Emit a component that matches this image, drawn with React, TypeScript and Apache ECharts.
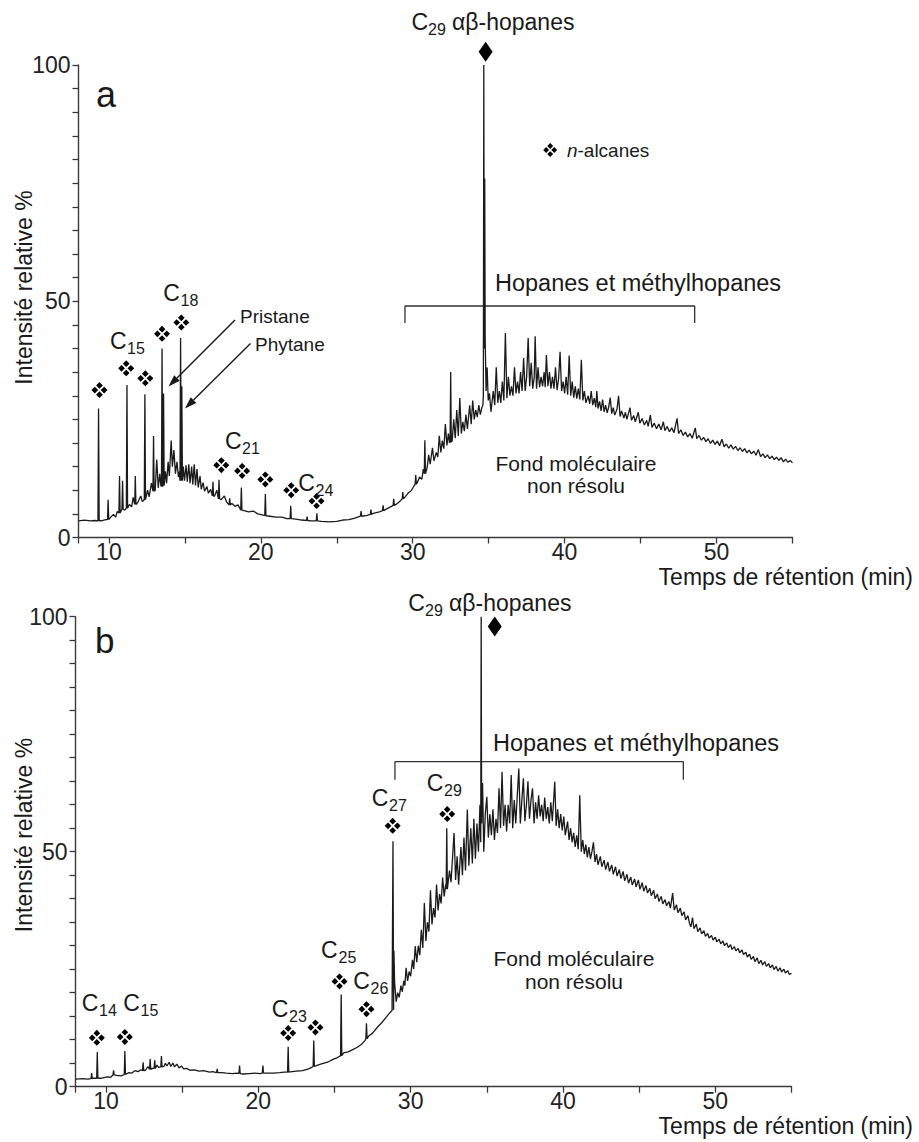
import React, { useEffect, useRef } from "react";
import * as echarts from "echarts";

const FONT = "'Liberation Sans', Arial, Helvetica, sans-serif";
const INK = "#1a1a1a";
const AXIS = "#3a3a3a";

// ---------- Panel a : chromatogram (time min, relative intensity %) ----------
const traceA: number[][] = [
  [8.0, 3.5], [8.4, 3.7], [8.8, 3.5], [9.1, 3.6], [9.6, 3.6], [9.8, 3.8], [10.1, 4.2], [10.3, 4.9], [10.45, 4.3],
  [10.55, 5.5], [11.05, 5.8], [11.35, 7.0], [11.5, 6.5], [11.6, 8.5], [11.9, 7.4], [12.1, 8.8], [12.2, 7.6],
  [12.55, 10], [12.65, 8.6], [12.8, 11.5], [13.05, 10], [13.15, 16.5], [13.25, 10.5], [13.35, 13.5], [13.42, 11],
  [13.72, 14], [13.8, 11.5], [13.9, 16], [13.98, 13], [14.1, 20.5], [14.18, 15], [14.28, 18.5], [14.38, 13.5],
  [14.48, 16], [14.58, 12.8], [14.65, 14], [14.9, 15], [14.98, 12], [15.08, 15.3], [15.16, 11.8], [15.26, 15.5],
  [15.34, 11.5], [15.45, 15], [15.52, 11.2], [15.62, 15.5], [15.7, 11], [15.8, 14.5], [15.88, 10.6], [16.0, 13],
  [16.08, 10.2], [16.2, 11.6], [16.3, 9.8], [16.45, 10.8], [16.55, 9.4], [16.7, 10.2], [16.95, 8.7], [17.1, 10],
  [17.4, 8.0], [17.6, 8.8], [17.75, 7.5], [18.1, 7.2], [18.3, 6.6], [18.5, 6.9], [18.9, 5.7], [19.2, 5.4],
  [19.5, 5.6], [19.8, 5.0], [20.1, 4.8], [20.6, 4.5], [21.0, 4.3], [21.4, 4.3], [21.7, 4.0], [22.3, 3.9],
  [22.7, 3.7], [23.3, 3.5], [24.0, 3.4], [24.5, 3.3], [25.0, 3.4], [25.4, 3.7], [25.8, 3.8], [26.2, 4.1],
  [27.0, 4.7], [27.4, 5.1], [27.8, 5.4], [28.2, 5.9], [28.6, 6.6], [28.9, 7.0], [29.2, 7.8], [29.5, 8.6],
  [29.7, 9.4], [29.9, 9.9], [30.1, 11.0], [30.3, 11.6], [30.45, 12.8], [30.6, 12.3], [30.7, 14.5], [30.95, 14.8],
  [31.05, 17.5], [31.15, 15.5], [31.3, 19], [31.4, 16.2], [31.55, 18], [31.65, 17], [31.75, 21.5], [31.85, 18],
  [31.95, 20.5], [32.05, 18.8], [32.15, 24], [32.25, 19.5], [32.35, 22], [32.42, 20], [32.6, 20.5], [32.7, 25],
  [32.8, 21], [32.9, 27], [33.0, 21.5], [33.1, 29.5], [33.2, 22], [33.3, 24.5], [33.4, 22.5], [33.5, 26],
  [33.6, 23], [33.75, 28], [33.85, 24], [33.95, 29], [34.05, 25], [34.15, 27], [34.25, 25.5], [34.35, 28],
  [34.45, 26], [34.55, 27.5], [34.62, 28], [34.65, 30], [34.68, 100], [34.71, 40], [34.74, 76], [34.77, 42],
  [34.83, 31], [34.9, 36], [34.97, 29], [35.05, 30.5], [35.15, 26.6], [35.3, 31], [35.4, 28], [35.5, 36],
  [35.6, 28.5], [35.7, 31], [35.8, 28.5], [35.9, 33], [36.0, 29], [36.1, 43.3], [36.2, 29.5], [36.3, 34],
  [36.4, 30], [36.5, 32], [36.6, 30], [36.7, 36], [36.8, 30.5], [36.9, 33], [37.0, 30.5], [37.1, 35],
  [37.2, 31], [37.3, 38], [37.4, 31], [37.5, 34], [37.6, 42.2], [37.7, 32], [37.8, 37], [37.9, 31.5],
  [38.0, 34], [38.06, 42.6], [38.15, 31.5], [38.25, 36], [38.35, 31.8], [38.45, 34], [38.55, 32], [38.65, 35],
  [38.72, 31.8], [38.8, 38.6], [38.9, 32], [39.0, 35], [39.1, 31.5], [39.2, 34], [39.3, 31.5], [39.4, 36],
  [39.5, 31.2], [39.6, 33.5], [39.7, 39.3], [39.8, 31], [39.9, 33], [40.0, 30.5], [40.1, 34], [40.2, 30.2],
  [40.3, 38.5], [40.4, 30], [40.5, 33], [40.6, 29.6], [40.7, 32], [40.8, 29.4], [40.9, 31.5], [41.0, 29.2],
  [41.1, 37.6], [41.2, 29], [41.3, 31], [41.4, 28.5], [41.55, 30], [41.65, 28.3], [41.75, 31], [41.85, 28],
  [41.95, 29.5], [42.05, 27.6], [42.12, 31], [42.2, 27.3], [42.3, 28.8], [42.4, 26.8], [42.5, 29.2], [42.6, 26.6],
  [42.7, 28], [42.8, 26.4], [42.9, 27.6], [43.0, 29.6], [43.1, 26.2], [43.2, 27.5], [43.3, 25.9], [43.45, 27.2],
  [43.55, 30], [43.65, 25.6], [43.75, 26.8], [43.9, 25.3], [44.0, 26.5], [44.1, 25], [44.3, 27.5], [44.4, 24.8],
  [44.55, 25.8], [44.65, 24.5], [44.85, 26.5], [44.95, 24.2], [45.1, 25.2], [45.25, 23.8], [45.4, 24.8], [45.5, 23.5],
  [45.64, 25.9], [45.75, 23.3], [45.9, 24.2], [46.05, 23], [46.2, 24], [46.35, 22.8], [46.5, 24.5], [46.6, 22.6],
  [46.75, 23.5], [46.9, 22.4], [47.05, 23.2], [47.2, 22.2], [47.4, 25.2], [47.5, 22], [47.65, 22.8], [47.8, 21.6],
  [47.95, 22.3], [48.1, 21.3], [48.25, 22], [48.4, 21], [48.6, 23.2], [48.7, 20.9], [48.85, 21.6], [49.0, 20.6],
  [49.15, 21.2], [49.3, 20.3], [49.45, 20.9], [49.6, 19.9], [49.75, 20.6], [49.9, 19.7], [50.05, 20.4], [50.2, 19.4],
  [50.35, 20.8], [50.5, 19.2], [50.65, 19.8], [50.8, 18.9], [50.95, 19.6], [51.1, 18.7], [51.25, 19.3], [51.4, 18.4],
  [51.55, 19.0], [51.7, 18.2], [51.85, 18.8], [52.0, 17.9], [52.15, 18.5], [52.3, 17.7], [52.45, 18.3], [52.6, 17.4],
  [52.75, 18.6], [52.9, 17.1], [53.05, 17.7], [53.2, 16.9], [53.35, 17.5], [53.5, 16.7], [53.65, 17.2], [53.8, 16.5],
  [53.95, 17.0], [54.1, 16.3], [54.25, 16.9], [54.4, 16.0], [54.55, 16.6], [54.7, 15.9], [54.85, 16.3], [55.0, 15.8],
];
// sharp peaks: [time, base, apex]
const spikesA: number[][] = [
  [9.32, 3.5, 27.3], [9.95, 3.8, 8.0], [10.7, 5.2, 13], [10.9, 6, 12], [11.19, 6.2, 32.3], [11.74, 7, 13],
  [12.37, 8, 30.3], [12.94, 9.8, 21.5], [13.5, 10.8, 40], [13.6, 11, 30.5], [14.72, 12, 42.2], [14.8, 12, 32],
  [16.85, 8.8, 11.8], [17.25, 8.2, 12.2], [17.95, 6.9, 8.3], [18.72, 5.8, 10.6], [20.3, 4.6, 9.2],
  [21.97, 4.0, 6.7], [23.05, 3.6, 4.4], [23.69, 3.5, 5.1], [26.6, 4.5, 5.6], [27.25, 4.9, 5.9], [28.05, 5.7, 6.8],
  [28.75, 6.8, 8.2], [29.35, 8.2, 9.6], [30.2, 11.3, 13.2], [30.8, 13.5, 20.6], [32.5, 20.2, 35],
];
const alkaneMarksA: number[][] = [
  [9.38, 31.2], [11.14, 35.8], [12.4, 33.7], [13.5, 43.1], [14.77, 45.5],
  [17.4, 15.3], [18.77, 14.1], [20.3, 12.3], [22.0, 10], [23.67, 7.7],
];
const hopaneMarkA: number[][] = [[34.8, 102.8]];
const legendMarkA: number[][] = [[39.05, 82]];
const bracketA: number[][] = [[29.49, 45.4], [29.49, 49], [48.56, 49], [48.56, 45.4]];

// ---------- Panel b ----------
const traceB: number[][] = [
  [8.0, 1.6], [8.5, 1.7], [8.8, 1.6], [9.2, 1.8], [9.7, 1.8], [10.1, 2.1], [10.3, 2.0], [10.7, 2.4], [11.0, 2.3],
  [11.5, 3.0], [11.7, 2.9], [11.9, 3.4], [12.1, 3.2], [12.3, 3.6], [12.6, 3.5], [12.75, 4.3], [13.05, 3.9],
  [13.35, 4.6], [13.45, 4.1], [13.8, 4.3], [13.9, 5.0], [14.0, 4.4], [14.15, 5.2], [14.25, 4.3], [14.4, 5.0],
  [14.5, 4.2], [14.65, 4.8], [14.8, 4.0], [14.95, 4.4], [15.1, 3.8], [15.3, 3.9], [15.5, 3.5], [15.8, 3.6],
  [16.1, 3.3], [16.4, 3.4], [16.8, 3.1], [17.0, 3.2], [17.6, 3.0], [17.9, 2.9], [18.3, 2.8], [18.6, 2.9],
  [19.0, 2.7], [19.4, 2.8], [19.8, 2.9], [20.1, 2.8], [20.6, 2.9], [21.0, 2.9], [21.4, 3.0], [21.7, 3.1],
  [22.2, 3.2], [22.5, 3.3], [22.9, 3.4], [23.3, 3.8], [23.5, 4.1], [23.9, 4.6], [24.2, 4.9], [24.6, 5.3],
  [24.9, 5.8], [25.2, 6.2], [25.35, 6.5], [25.6, 7.2], [25.9, 7.4], [26.2, 7.9], [26.5, 8.4], [26.8, 9.1],
  [27.0, 9.8], [27.25, 10.8], [27.5, 11.4], [27.8, 12.6], [28.1, 13.6], [28.4, 14.8], [28.6, 15.6], [28.78, 16.2],
  [28.9, 29], [28.95, 22], [29.05, 18.1], [29.15, 20], [29.25, 19], [29.36, 21.5], [29.45, 20.2], [29.55, 22.5],
  [29.62, 21.5], [29.7, 25.3], [29.8, 22.5], [29.9, 24.5], [30.0, 23.5], [30.12, 27], [30.2, 25], [30.3, 29.9],
  [30.4, 26.5], [30.5, 30], [30.6, 28], [30.7, 33.4], [30.8, 29.5], [30.9, 39.1], [31.0, 31], [31.1, 35],
  [31.2, 33], [31.3, 41.8], [31.4, 34.5], [31.5, 38], [31.6, 36], [31.7, 43], [31.8, 37.5], [31.9, 41],
  [32.0, 39], [32.1, 44.5], [32.2, 40.5], [32.3, 43], [32.45, 42], [32.55, 46], [32.65, 43.5], [32.85, 54],
  [32.95, 44], [33.05, 49], [33.15, 43], [33.3, 51], [33.4, 45], [33.5, 53], [33.6, 46], [33.72, 59],
  [33.82, 47], [33.95, 55], [34.05, 47.5], [34.15, 57], [34.25, 48.5], [34.35, 56], [34.45, 50], [34.55, 60],
  [34.6, 52], [34.63, 100], [34.66, 56], [34.72, 64.6], [34.8, 50], [34.9, 58], [35.0, 61.7], [35.1, 53],
  [35.2, 58], [35.3, 53.5], [35.4, 59], [35.5, 52.5], [35.6, 57], [35.7, 54], [35.8, 63.5], [35.9, 55],
  [36.0, 67], [36.1, 55.5], [36.2, 60], [36.3, 54.3], [36.4, 60], [36.5, 56], [36.6, 66.3], [36.7, 55],
  [36.8, 61], [36.9, 56], [37.0, 62], [37.1, 67.7], [37.2, 56], [37.3, 61], [37.4, 65.6], [37.5, 56.5],
  [37.6, 60], [37.7, 65], [37.8, 57], [37.9, 61], [38.0, 63.5], [38.1, 56], [38.2, 60.5], [38.3, 57],
  [38.4, 62], [38.5, 57.5], [38.6, 60], [38.7, 56.5], [38.8, 61.5], [38.9, 57], [39.0, 59.5], [39.1, 56],
  [39.2, 60.5], [39.3, 56.5], [39.46, 64.9], [39.55, 55.5], [39.65, 59], [39.75, 55], [39.85, 58], [39.95, 54.5],
  [40.05, 57.5], [40.15, 53.5], [40.3, 56.4], [40.4, 52.5], [40.5, 55], [40.6, 52], [40.7, 54], [40.8, 51],
  [40.9, 53.5], [41.0, 50.5], [41.1, 62], [41.2, 50], [41.3, 52.5], [41.4, 49.5], [41.5, 51.5], [41.6, 48.8],
  [41.7, 51], [41.8, 48.5], [41.9, 50], [42.0, 52], [42.1, 47.8], [42.2, 49.5], [42.3, 47.2], [42.45, 49],
  [42.55, 46.8], [42.7, 48.2], [42.8, 46.2], [42.95, 47.8], [43.05, 45.8], [43.2, 47.2], [43.3, 45.2], [43.45, 46.8],
  [43.55, 44.8], [43.7, 46.2], [43.8, 44.3], [43.95, 45.8], [44.05, 43.8], [44.2, 45.2], [44.3, 43.3], [44.45, 44.6],
  [44.55, 42.9], [44.7, 44.2], [44.8, 42.5], [44.95, 44], [45.05, 42], [45.2, 43.4], [45.3, 41.6], [45.45, 42.8],
  [45.55, 41.2], [45.7, 42.2], [45.8, 40.6], [45.95, 41.8], [46.05, 40], [46.2, 41], [46.3, 39.4], [46.45, 40.5],
  [46.55, 38.9], [46.7, 39.8], [46.8, 38.5], [46.95, 39.4], [47.05, 38], [47.2, 41.2], [47.3, 37.6], [47.45, 38.7],
  [47.55, 37], [47.7, 38], [47.8, 36.4], [47.95, 37.2], [48.05, 35.5], [48.2, 36.4], [48.3, 34.8], [48.4, 34],
  [48.5, 36], [48.6, 33.6], [48.75, 34.6], [48.85, 33], [49.0, 33.8], [49.1, 32.5], [49.25, 33.2], [49.35, 32],
  [49.5, 32.6], [49.6, 31.6], [49.75, 32.2], [49.85, 31.2], [50.0, 31.8], [50.1, 30.8], [50.25, 31.4], [50.35, 30.4],
  [50.5, 31], [50.6, 30], [50.75, 30.6], [50.85, 29.6], [51.0, 30.2], [51.1, 29.2], [51.25, 29.8], [51.35, 28.9],
  [51.5, 29.4], [51.6, 28.5], [51.75, 29.1], [51.85, 28.1], [52.0, 28.6], [52.1, 27.6], [52.25, 28.2], [52.35, 27.1],
  [52.5, 27.7], [52.6, 26.6], [52.75, 27.4], [52.85, 26.2], [53.0, 26.9], [53.1, 25.9], [53.25, 26.6], [53.35, 25.6],
  [53.5, 26.2], [53.6, 25.3], [53.75, 25.9], [53.85, 24.9], [54.0, 25.6], [54.1, 24.6], [54.25, 25.3], [54.35, 24.4],
  [54.5, 25], [54.6, 24.2], [54.75, 24.7], [54.85, 23.9], [55.0, 24.1],
];
const spikesB: number[][] = [
  [9.06, 1.7, 2.9], [9.43, 1.8, 7.4], [10.5, 2.5, 3.5], [11.24, 2.6, 7.6], [12.44, 3.4, 5.2], [12.9, 3.7, 5.9],
  [13.2, 3.9, 5.6], [13.64, 4.2, 6.5], [17.3, 3.0, 3.8], [18.77, 2.8, 4.5], [20.3, 2.9, 4.5], [21.96, 3.1, 8.5],
  [23.64, 4.3, 9.8], [25.44, 6.6, 19.6], [27.1, 10.2, 13.5], [28.84, 16.3, 52.2], [32.37, 42, 55],
];
const alkaneMarksB: number[][] = [
  [9.4, 10.4], [11.24, 10.6], [21.96, 11.4], [23.75, 12.6], [25.33, 22.4], [27.1, 16.5], [28.82, 55.5], [32.4, 58],
];
const hopaneMarkB: number[][] = [[35.52, 97.9]];
const bracketB: number[][] = [[28.97, 65.3], [28.97, 69.15], [47.9, 69.15], [47.9, 65.3]];

// ---------- axes ----------
const xTickValues = [8, 10, 15, 20, 25, 30, 35, 40, 45, 50, 55];
const xLabelValues = [10, 20, 30, 40, 50];
const yLabelValues = [0, 50, 100];

const ALKANE =
  "path://M10,0L14.2,4.2L10,8.4L5.8,4.2Z M15.8,5.8L20,10L15.8,14.2L11.6,10Z M10,11.6L14.2,15.8L10,20L5.8,15.8Z M4.2,5.8L8.4,10L4.2,14.2L0,10Z";

function buildTrace(trace: number[][], spikes: number[][], hw: number) {
  const pts = trace
    .filter(([t]) => !spikes.some(([s]) => Math.abs(t - s) <= hw + 0.005))
    .map((p) => [p[0], p[1]]);
  spikes.forEach(([t, b, top]) => {
    pts.push([t - hw, b], [t, top], [t + hw, b]);
  });
  pts.sort((a, b) => a[0] - b[0]);
  return pts;
}

const txt = (x: number, y: number, text: string, size: number, extra: any = {}) => ({
  type: "text",
  x,
  y,
  z: 100,
  style: { text, fontSize: size, fontFamily: FONT, fill: INK, align: "left", verticalAlign: "middle", ...extra },
});

const cLabel = (cx: number, cy: number, sx: number, sub: string) => [
  txt(cx, cy, "C", 23),
  txt(sx, cy + 7.5, sub, 16),
];

function arrow(x1: number, y1: number, x2: number, y2: number) {
  const dx = x2 - x1, dy = y2 - y1;
  const L = Math.hypot(dx, dy);
  const ux = dx / L, uy = dy / L;
  const hl = 12, hw = 4;
  const bx = x2 - ux * hl, by = y2 - uy * hl;
  return [
    { type: "line", z: 100, shape: { x1, y1, x2: bx, y2: by }, style: { stroke: INK, lineWidth: 1.4 } },
    {
      type: "polygon",
      z: 100,
      shape: { points: [[x2, y2], [bx - uy * hw, by + ux * hw], [bx + uy * hw, by - ux * hw]] },
      style: { fill: INK },
    },
  ];
}

function xAxisCfg(gridIndex: number) {
  return {
    gridIndex,
    type: "value",
    min: 8,
    max: 55,
    axisLine: { show: true, onZero: false, lineStyle: { color: AXIS, width: 1.4 } },
    axisTick: { show: true, length: 6, customValues: xTickValues, lineStyle: { color: AXIS, width: 1.3 } },
    axisLabel: {
      customValues: xLabelValues, fontSize: 23, lineHeight: 18, fontFamily: FONT, color: "#222", margin: 5,
    },
    splitLine: { show: false },
  };
}
function yAxisCfg(gridIndex: number) {
  return {
    gridIndex,
    type: "value",
    min: 0,
    max: 100,
    interval: 5,
    axisLine: { show: true, onZero: false, lineStyle: { color: AXIS, width: 1.4 } },
    axisTick: { show: true, length: 6, lineStyle: { color: AXIS, width: 1.3 } },
    axisLabel: { customValues: yLabelValues, fontSize: 23, fontFamily: FONT, color: "#222", margin: 8 },
    splitLine: { show: false },
  };
}

function scatter(idx: number, data: number[][], symbol: string, size: any) {
  return {
    type: "scatter",
    xAxisIndex: idx,
    yAxisIndex: idx,
    data,
    symbol,
    symbolSize: size,
    clip: false,
    silent: true,
    itemStyle: { color: "#000", opacity: 1 },
    z: 5,
  };
}

export default function App() {
  const ref = useRef<HTMLDivElement>(null);
  useEffect(() => {
    document.body.style.margin = "0";
    const chart = echarts.init(ref.current as HTMLDivElement, null, { renderer: "svg" });
    const graphic: any[] = [
      // panel a
      txt(96, 94, "a", 36),
      { ...txt(24, 287.5, "Intensité relative %", 23, { align: "center" }), rotation: Math.PI / 2 },
      txt(913, 576.5, "Temps de rétention (min)", 23, { align: "right", lineHeight: 18 }),
      ...cLabel(110, 340.5, 127, "15"),
      ...cLabel(163.3, 292.5, 180.5, "18"),
      ...cLabel(225, 441, 242, "21"),
      ...cLabel(298.3, 482.5, 315.5, "24"),
      txt(240, 316.5, "Pristane", 19),
      txt(255, 344.5, "Phytane", 19),
      ...arrow(235, 320, 168.5, 386.5),
      ...arrow(250.5, 343.5, 185, 408.5),
      ...cLabel(411.5, 22, 428, "29"),
      txt(452, 22, "αβ-hopanes", 23),
      txt(495, 283, "Hopanes et méthylhopanes", 23.5),
      txt(576, 463, "Fond moléculaire", 21, { align: "center" }),
      txt(576, 485, "non résolu", 21, { align: "center" }),
      txt(567, 150, "n", 19, { fontStyle: "italic" }),
      txt(577.5, 150, "-alcanes", 19),
      // panel b
      txt(95, 640, "b", 35),
      { ...txt(24, 835, "Intensité relative %", 23, { align: "center" }), rotation: Math.PI / 2 },
      txt(913, 1126, "Temps de rétention (min)", 23, { align: "right", lineHeight: 18 }),
      ...cLabel(81.7, 1002.5, 99, "14"),
      ...cLabel(123.3, 1002.5, 140.5, "15"),
      ...cLabel(271.7, 1009, 289, "23"),
      ...cLabel(321, 950, 338.5, "25"),
      ...cLabel(353.3, 981, 370.5, "26"),
      ...cLabel(371.7, 798, 389, "27"),
      ...cLabel(426.7, 783, 444, "29"),
      ...cLabel(408.3, 602.5, 425, "29"),
      txt(449, 602.5, "αβ-hopanes", 23),
      txt(493, 743, "Hopanes et méthylhopanes", 23.5),
      txt(574, 958, "Fond moléculaire", 21, { align: "center" }),
      txt(574, 981, "non résolu", 21, { align: "center" }),
    ];

    chart.setOption({
      animation: false,
      backgroundColor: "#ffffff",
      grid: [
        { left: 78.5, top: 65, width: 714, height: 472.5 },
        { left: 75.5, top: 616.7, width: 716, height: 470 },
      ],
      xAxis: [xAxisCfg(0), xAxisCfg(1)],
      yAxis: [yAxisCfg(0), yAxisCfg(1)],
      series: [
        {
          type: "line",
          xAxisIndex: 0,
          yAxisIndex: 0,
          data: buildTrace(traceA, spikesA, 0.04),
          showSymbol: false,
          silent: true,
          lineStyle: { color: INK, width: 1.3 },
          z: 3,
        },
        {
          type: "line",
          xAxisIndex: 1,
          yAxisIndex: 1,
          data: buildTrace(traceB, spikesB, 0.04),
          showSymbol: false,
          silent: true,
          lineStyle: { color: INK, width: 1.3 },
          z: 3,
        },
        {
          type: "line", xAxisIndex: 0, yAxisIndex: 0, data: bracketA, showSymbol: false, silent: true,
          lineStyle: { color: "#333", width: 1.3 }, z: 2,
        },
        {
          type: "line", xAxisIndex: 1, yAxisIndex: 1, data: bracketB, showSymbol: false, silent: true,
          lineStyle: { color: "#333", width: 1.3 }, z: 2,
        },
        scatter(0, alkaneMarksA, ALKANE, 16),
        scatter(0, legendMarkA, ALKANE, 14),
        scatter(0, hopaneMarkA, "diamond", [14, 20]),
        scatter(1, alkaneMarksB, ALKANE, 16),
        scatter(1, hopaneMarkB, "diamond", [14, 20]),
      ],
      graphic,
    });
    return () => chart.dispose();
  }, []);
  return (
    <div
      ref={ref}
      style={{ position: "absolute", left: 0, top: 0, width: 919, height: 1142, background: "#fff" }}
    />
  );
}
